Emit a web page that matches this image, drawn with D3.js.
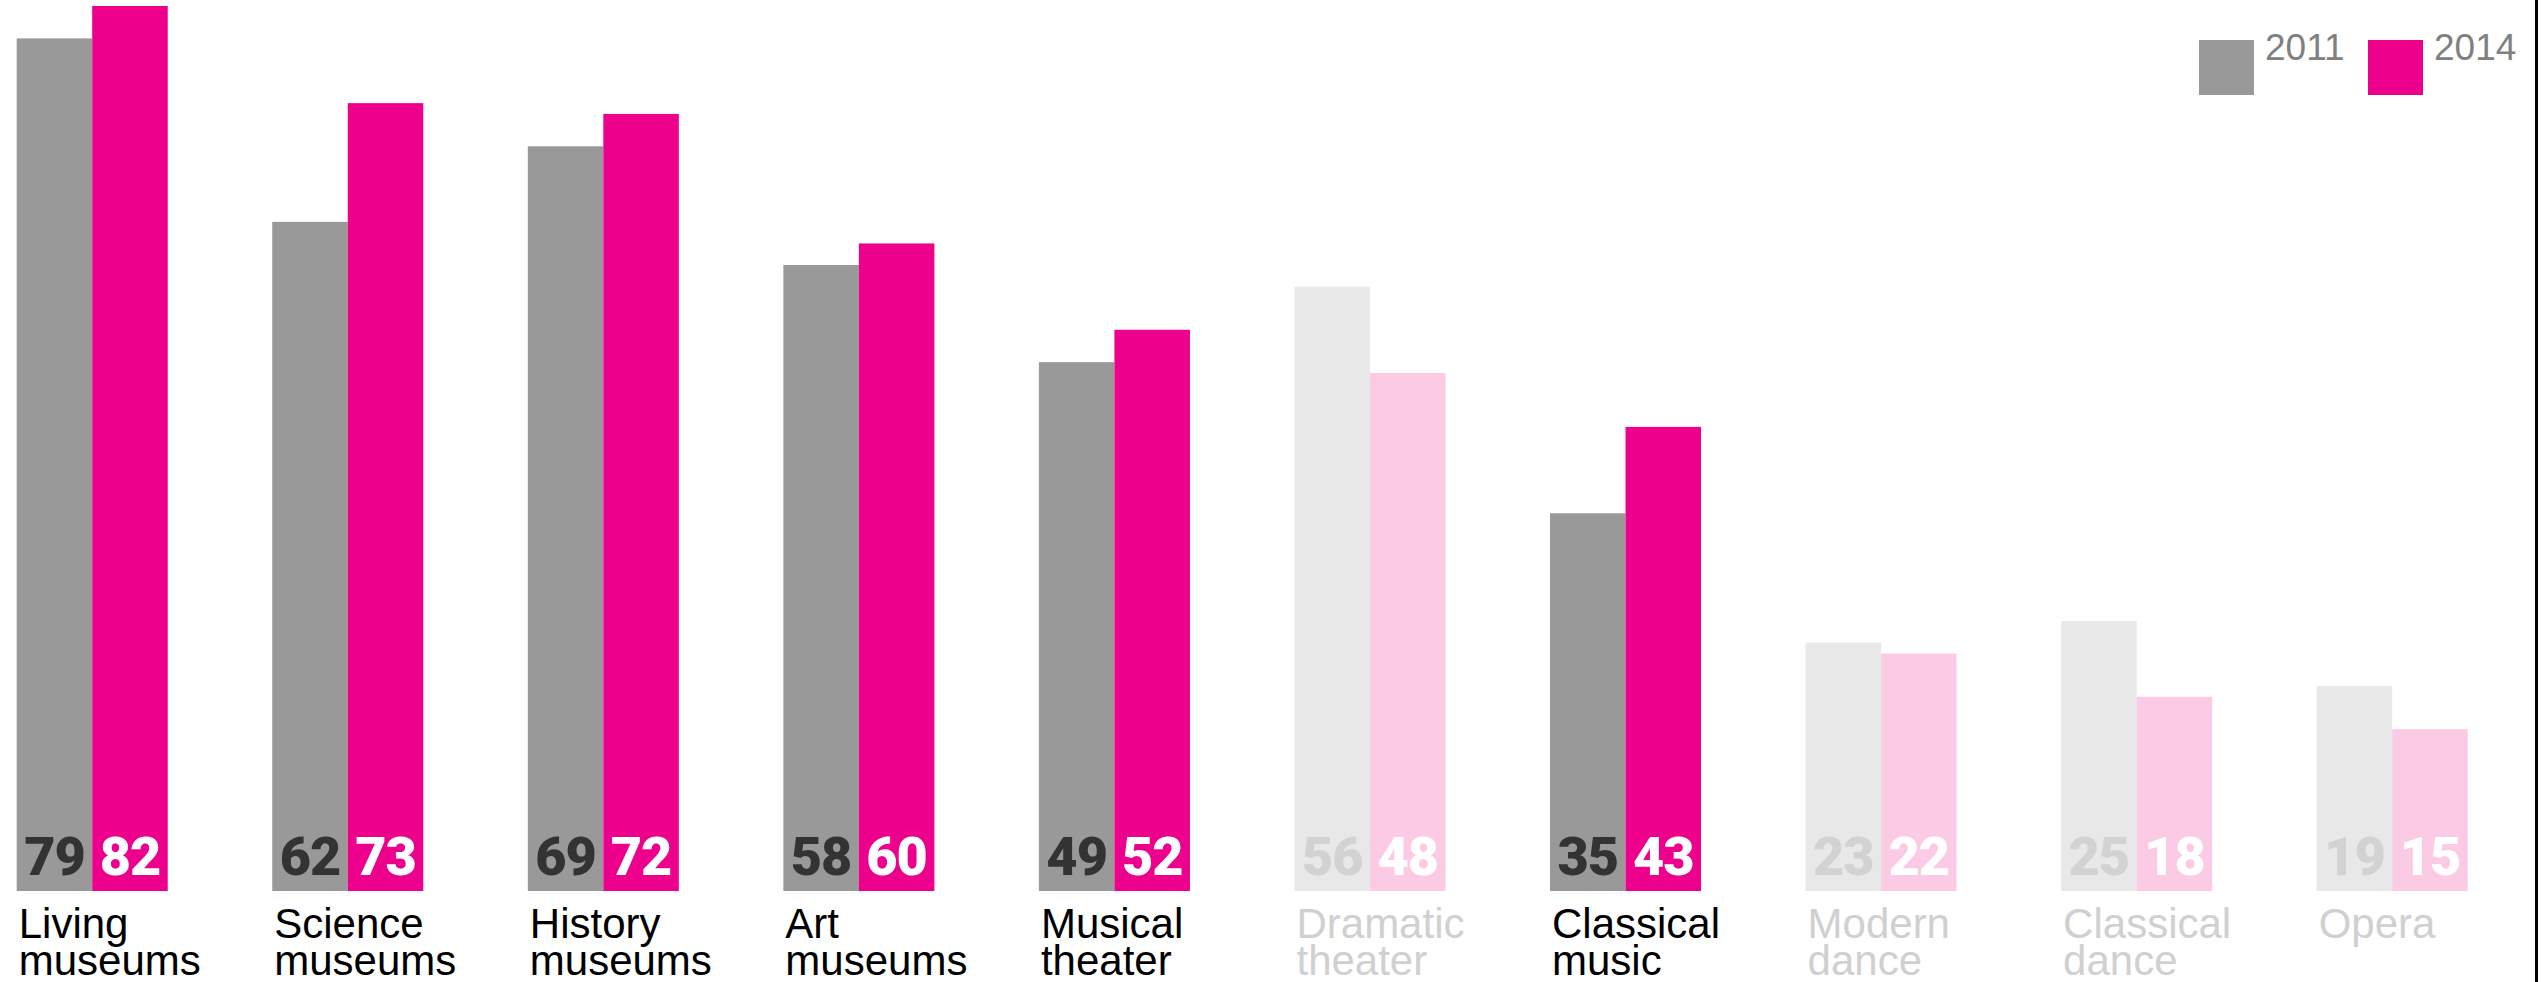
<!DOCTYPE html>
<html>
<head>
<meta charset="utf-8">
<script src="https://cdn.jsdelivr.net/npm/d3@7"></script>
<style>
  html, body { margin: 0; padding: 0; background: #ffffff; }
  svg { display: block; }
</style>
</head>
<body>
<svg id="chart" width="2542" height="982"></svg>
<script>
// Attendance share by cultural activity, 2011 vs 2014
const categories = [
  "Living museums", "Science museums", "History museums", "Art museums",
  "Musical theater", "Dramatic theater", "Classical music", "Modern dance",
  "Classical dance", "Opera"
];
const series = ["2011", "2014"];
const values2011 = [79, 62, 69, 58, 49, 56, 35, 23, 25, 19];
const values2014 = [82, 73, 72, 60, 52, 48, 43, 22, 18, 15];
// categories drawn in muted tones
const mutedCategories = ["Dramatic theater", "Modern dance", "Classical dance", "Opera"];

const W = 2542, H = 982;
const svg = d3.select("#chart");

const colors = {
  "2011": { full: "#999999", muted: "#e8e8e8", text: "#333333", mutedText: "#d2d2d2" },
  "2014": { full: "#ec008c", muted: "#fbcbe6", text: "#ffffff", mutedText: "#ffffff" }
};

const rows = categories.map((c, i) => ({
  category: c,
  muted: mutedCategories.includes(c),
  values: [
    { key: "2011", value: values2011[i] },
    { key: "2014", value: values2014[i] }
  ]
}));

const x0 = d3.scaleBand()
  .domain(categories)
  .range([16.7, 2467.7])
  .paddingInner(0.409)
  .paddingOuter(0);

const x1 = d3.scaleBand()
  .domain(series)
  .range([0, x0.bandwidth()])
  .padding(0);

const yMax = d3.max(values2011.concat(values2014));
const y = d3.scaleLinear().domain([0, yMax]).range([891, 6]);

const groups = svg.append("g").selectAll("g.group")
  .data(rows)
  .join("g")
  .attr("class", "group")
  .attr("transform", d => `translate(${x0(d.category)},0)`);

// bars
groups.selectAll("rect.bar")
  .data(d => d.values.map(v => ({ ...v, muted: d.muted })))
  .join("rect")
  .attr("class", "bar")
  .attr("x", d => x1(d.key))
  .attr("width", x1.bandwidth())
  .attr("y", d => y(d.value))
  .attr("height", d => y(0) - y(d.value))
  .attr("fill", d => d.muted ? colors[d.key].muted : colors[d.key].full);

// value labels at the foot of each bar
groups.selectAll("text.val")
  .data(d => d.values.map(v => ({ ...v, muted: d.muted })))
  .join("text")
  .attr("class", "val")
  .attr("x", d => x1(d.key) + x1.bandwidth() / 2)
  .attr("y", y(0) - 16)
  .attr("text-anchor", "middle")
  .attr("font-family", "Roboto, 'Open Sans', sans-serif")
  .attr("font-weight", 900)
  .attr("font-size", 54)
  .attr("letter-spacing", -1)
  .attr("fill", d => d.muted ? colors[d.key].mutedText : colors[d.key].text)
  .text(d => d.value);

// category labels, two lines
const catLabels = groups.append("text")
  .attr("x", 2)
  .attr("y", 938)
  .attr("font-family", "'Liberation Sans', Arial, sans-serif")
  .attr("font-size", 42)
  .attr("fill", d => d.muted ? "#d0d0d0" : "#000000");

catLabels.selectAll("tspan")
  .data(d => d.category.split(" "))
  .join("tspan")
  .attr("x", 2)
  .attr("dy", (d, i) => i === 0 ? 0 : 37)
  .text(d => d);

// legend
const legend = svg.append("g").attr("transform", "translate(2199,40)");
const legendItems = legend.selectAll("g")
  .data(series)
  .join("g")
  .attr("transform", (d, i) => `translate(${i * 169},0)`);
legendItems.append("rect")
  .attr("width", 55)
  .attr("height", 55)
  .attr("fill", d => colors[d].full);
legendItems.append("text")
  .attr("x", 66)
  .attr("y", 20)
  .attr("font-family", "'Liberation Sans', Arial, sans-serif")
  .attr("font-size", 37)
  .attr("fill", "#808080")
  .text(d => d);

// right frame edge
svg.append("line")
  .attr("x1", 2536.5).attr("x2", 2536.5)
  .attr("y1", 0).attr("y2", H)
  .attr("stroke", "#000000")
  .attr("stroke-width", 3);
</script>
</body>
</html>
